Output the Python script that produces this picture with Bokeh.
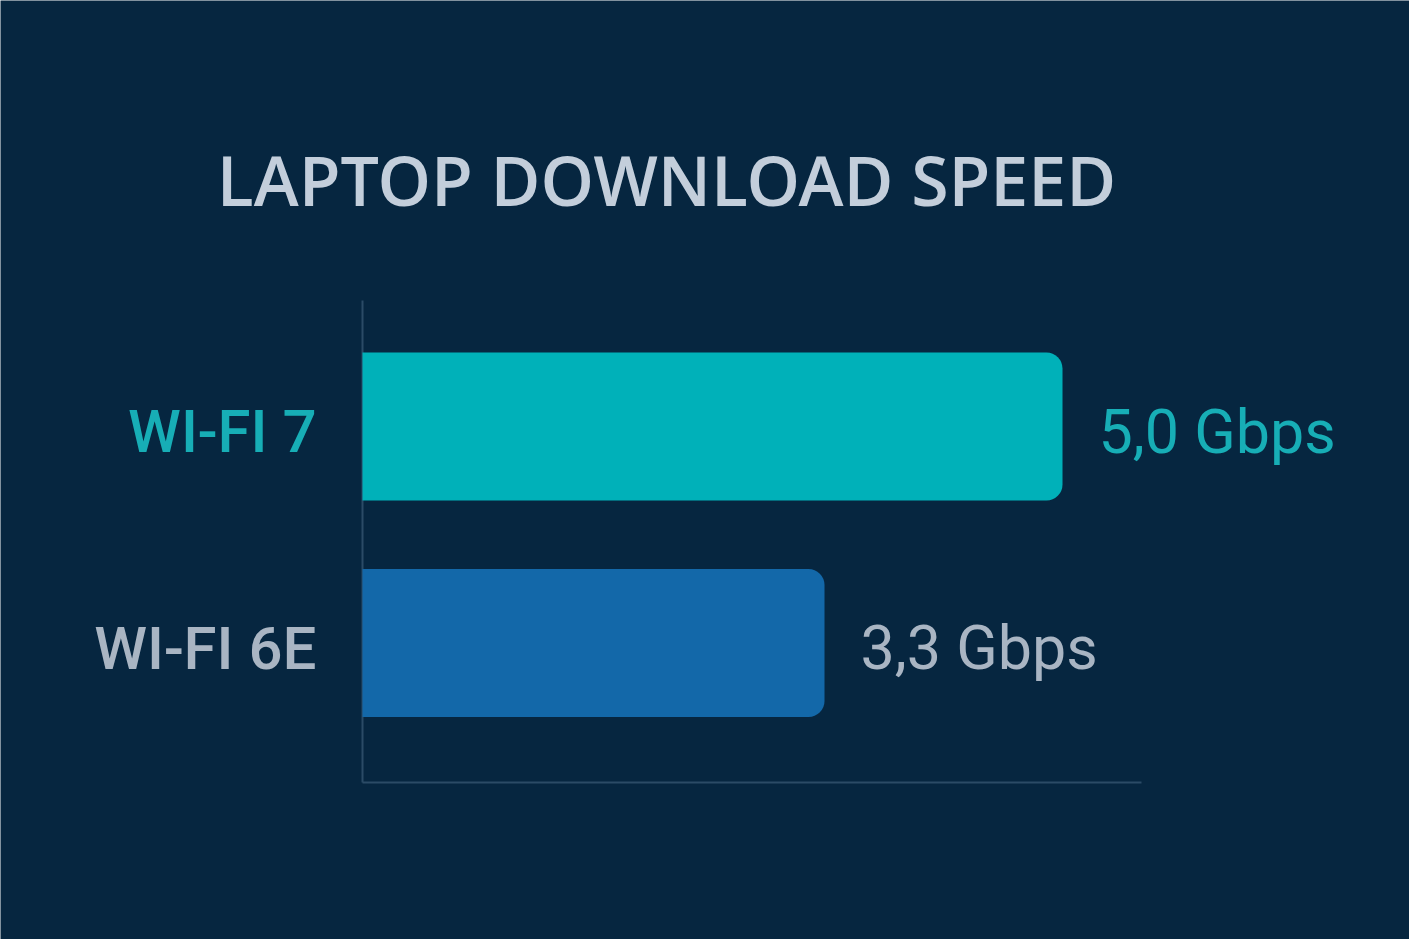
from bokeh.plotting import figure
from bokeh.models import ColumnDataSource, Range1d, Label
from bokeh.core.properties import value
from bokeh.embed import file_html
from bokeh.resources import INLINE

# ---- data ----
categories = ["WI-FI 7", "WI-FI 6E"]
speeds = [5.0, 3.3]
value_labels = ["5,0 Gbps", "3,3 Gbps"]
bar_colors = ["#00b1b9", "#1368a9"]
text_colors = ["#17aeb6", "#a9b5c3"]
title_text = "LAPTOP DOWNLOAD SPEED"

# ---- layout (pixels) ----
W, H = 1409, 939
BG = "#062640"
px_per_unit = 140.0          # horizontal scale
zero_px = 362                # px of x = 0
row_px = 216.5               # vertical distance between categories
first_row_px = 426           # px of first category centre
axis_top_px = 300
axis_bottom_px = 782
axis_right_px = 1141

x_start = -zero_px / px_per_unit
x_end = (W - zero_px) / px_per_unit
y_top = -first_row_px / row_px
y_bottom = (H - first_row_px) / row_px

ys = list(range(len(categories)))
src = ColumnDataSource(dict(cat=categories, y=ys, v=speeds, vl=value_labels,
                            bc=bar_colors, tc=text_colors,
                            zero=[0.0] * len(categories)))

p = figure(width=W, height=H, output_backend="svg", toolbar_location=None,
           x_range=Range1d(x_start, x_end), y_range=Range1d(y_bottom, y_top),
           min_border=0, background_fill_color=BG, border_fill_color=BG,
           outline_line_color=None)
p.xaxis.visible = False
p.yaxis.visible = False
p.xgrid.visible = False
p.ygrid.visible = False

# axis lines
ax_y_top = (axis_top_px - first_row_px) / row_px
ax_y_bot = (axis_bottom_px - first_row_px) / row_px
ax_x_end = (axis_right_px - zero_px) / px_per_unit
p.segment(x0=[0, 0], y0=[ax_y_top, ax_y_bot], x1=[0, ax_x_end], y1=[ax_y_bot, ax_y_bot],
          line_color="#2b4b66", line_width=2)

# bars
p.hbar(y="y", left=0, right="v", height=148 / row_px, fill_color="bc",
       line_color=None, source=src, border_radius=(0, 16, 16, 0))

# category labels
p.text(x="zero", y="y", text="cat", text_color="tc", source=src,
       text_font=value("Roboto Medium"), text_font_size="60px",
       text_align="right", text_baseline="alphabetic", x_offset=-46, y_offset=5)

# value labels
p.text(x="v", y="y", text="vl", text_color="tc", source=src,
       text_font=value("Roboto"), text_font_size="61px",
       text_align="left", text_baseline="alphabetic", x_offset=36, y_offset=5)

# title
p.add_layout(Label(x=666, y=H - 207 + 28, x_units="screen", y_units="screen",
                   text=title_text, text_font="Open Sans SemiBold", text_font_size="68px",
                   text_color="#c3cedb", text_align="center",
                   text_baseline="alphabetic"))

html = file_html(p, INLINE)
html = html.replace("<body>", '<body style="background:%s">' % BG, 1)
open("out.html", "w").write(html)
